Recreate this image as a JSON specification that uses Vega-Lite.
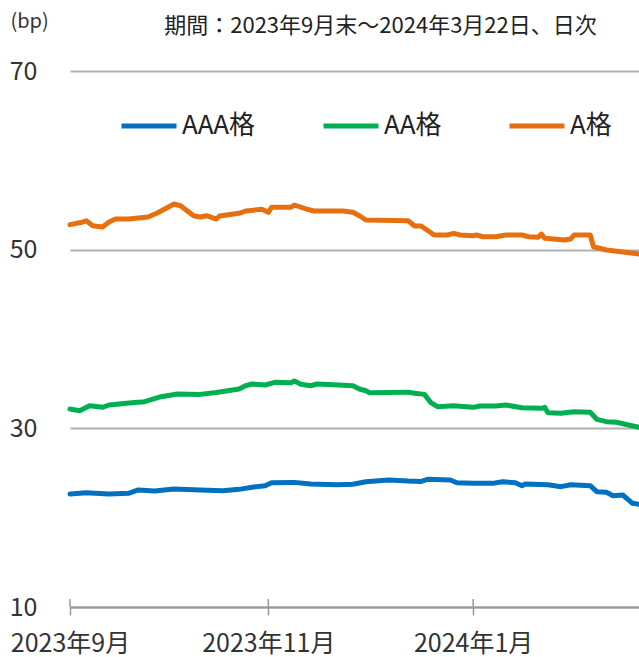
{
  "$schema": "https://vega.github.io/schema/vega-lite/v6.json",
  "width": 569,
  "height": 536,
  "autosize": {"type": "none"},
  "padding": {"left": 70, "top": 71, "right": 0, "bottom": 50},
  "background": "white",
  "config": {"view": {"stroke": null}, "font": "Noto Sans CJK JP"},
  "resolve": {"axis": {"x": "independent", "y": "independent"}},
  "layer": [
    {
      "data": {
        "values": [
          {"d": "2023-09-29", "s": "AAA格", "v": 22.65},
          {"d": "2023-10-04", "s": "AAA格", "v": 22.8},
          {"d": "2023-10-11", "s": "AAA格", "v": 22.65},
          {"d": "2023-10-17", "s": "AAA格", "v": 22.73},
          {"d": "2023-10-20", "s": "AAA格", "v": 23.1},
          {"d": "2023-10-25", "s": "AAA格", "v": 22.98},
          {"d": "2023-10-31", "s": "AAA格", "v": 23.21},
          {"d": "2023-11-08", "s": "AAA格", "v": 23.1},
          {"d": "2023-11-15", "s": "AAA格", "v": 23.02},
          {"d": "2023-11-20", "s": "AAA格", "v": 23.17},
          {"d": "2023-11-24", "s": "AAA格", "v": 23.4},
          {"d": "2023-11-28", "s": "AAA格", "v": 23.58},
          {"d": "2023-11-30", "s": "AAA格", "v": 23.91},
          {"d": "2023-12-07", "s": "AAA格", "v": 23.95},
          {"d": "2023-12-12", "s": "AAA格", "v": 23.77},
          {"d": "2023-12-20", "s": "AAA格", "v": 23.69},
          {"d": "2023-12-25", "s": "AAA格", "v": 23.75},
          {"d": "2023-12-29", "s": "AAA格", "v": 24.02},
          {"d": "2024-01-05", "s": "AAA格", "v": 24.21},
          {"d": "2024-01-11", "s": "AAA格", "v": 24.1},
          {"d": "2024-01-15", "s": "AAA格", "v": 24.06},
          {"d": "2024-01-17", "s": "AAA格", "v": 24.29},
          {"d": "2024-01-24", "s": "AAA格", "v": 24.21},
          {"d": "2024-01-26", "s": "AAA格", "v": 23.91},
          {"d": "2024-01-31", "s": "AAA格", "v": 23.84},
          {"d": "2024-02-06", "s": "AAA格", "v": 23.84},
          {"d": "2024-02-09", "s": "AAA格", "v": 24.02},
          {"d": "2024-02-13", "s": "AAA格", "v": 23.91},
          {"d": "2024-02-15", "s": "AAA格", "v": 23.58},
          {"d": "2024-02-16", "s": "AAA格", "v": 23.77},
          {"d": "2024-02-23", "s": "AAA格", "v": 23.69},
          {"d": "2024-02-27", "s": "AAA格", "v": 23.47},
          {"d": "2024-03-01", "s": "AAA格", "v": 23.69},
          {"d": "2024-03-07", "s": "AAA格", "v": 23.58},
          {"d": "2024-03-09", "s": "AAA格", "v": 22.91},
          {"d": "2024-03-12", "s": "AAA格", "v": 22.84},
          {"d": "2024-03-14", "s": "AAA格", "v": 22.46},
          {"d": "2024-03-17", "s": "AAA格", "v": 22.54},
          {"d": "2024-03-20", "s": "AAA格", "v": 21.61},
          {"d": "2024-03-22", "s": "AAA格", "v": 21.5},

          {"d": "2023-09-29", "s": "AA格", "v": 32.16},
          {"d": "2023-10-02", "s": "AA格", "v": 31.97},
          {"d": "2023-10-05", "s": "AA格", "v": 32.53},
          {"d": "2023-10-09", "s": "AA格", "v": 32.35},
          {"d": "2023-10-11", "s": "AA格", "v": 32.61},
          {"d": "2023-10-18", "s": "AA格", "v": 32.87},
          {"d": "2023-10-22", "s": "AA格", "v": 32.98},
          {"d": "2023-10-27", "s": "AA格", "v": 33.54},
          {"d": "2023-11-01", "s": "AA格", "v": 33.84},
          {"d": "2023-11-08", "s": "AA格", "v": 33.8},
          {"d": "2023-11-13", "s": "AA格", "v": 34.02},
          {"d": "2023-11-20", "s": "AA格", "v": 34.4},
          {"d": "2023-11-22", "s": "AA格", "v": 34.77},
          {"d": "2023-11-24", "s": "AA格", "v": 34.96},
          {"d": "2023-11-28", "s": "AA格", "v": 34.85},
          {"d": "2023-12-01", "s": "AA格", "v": 35.15},
          {"d": "2023-12-06", "s": "AA格", "v": 35.1},
          {"d": "2023-12-07", "s": "AA格", "v": 35.3},
          {"d": "2023-12-09", "s": "AA格", "v": 34.93},
          {"d": "2023-12-12", "s": "AA格", "v": 34.77},
          {"d": "2023-12-14", "s": "AA格", "v": 34.96},
          {"d": "2023-12-19", "s": "AA格", "v": 34.88},
          {"d": "2023-12-25", "s": "AA格", "v": 34.77},
          {"d": "2023-12-27", "s": "AA格", "v": 34.4},
          {"d": "2023-12-29", "s": "AA格", "v": 34.21},
          {"d": "2023-12-30", "s": "AA格", "v": 33.99},
          {"d": "2024-01-11", "s": "AA格", "v": 34.05},
          {"d": "2024-01-13", "s": "AA格", "v": 33.92},
          {"d": "2024-01-16", "s": "AA格", "v": 33.8},
          {"d": "2024-01-18", "s": "AA格", "v": 32.87},
          {"d": "2024-01-20", "s": "AA格", "v": 32.42},
          {"d": "2024-01-25", "s": "AA格", "v": 32.53},
          {"d": "2024-01-31", "s": "AA格", "v": 32.35},
          {"d": "2024-02-02", "s": "AA格", "v": 32.5},
          {"d": "2024-02-07", "s": "AA格", "v": 32.5},
          {"d": "2024-02-10", "s": "AA格", "v": 32.61},
          {"d": "2024-02-15", "s": "AA格", "v": 32.31},
          {"d": "2024-02-21", "s": "AA格", "v": 32.24},
          {"d": "2024-02-22", "s": "AA格", "v": 32.35},
          {"d": "2024-02-23", "s": "AA格", "v": 31.75},
          {"d": "2024-02-27", "s": "AA格", "v": 31.68},
          {"d": "2024-03-02", "s": "AA格", "v": 31.86},
          {"d": "2024-03-07", "s": "AA格", "v": 31.8},
          {"d": "2024-03-09", "s": "AA格", "v": 31.01},
          {"d": "2024-03-12", "s": "AA格", "v": 30.75},
          {"d": "2024-03-15", "s": "AA格", "v": 30.68},
          {"d": "2024-03-22", "s": "AA格", "v": 30.11},

          {"d": "2023-09-29", "s": "A格", "v": 52.8},
          {"d": "2023-10-03", "s": "A格", "v": 53.1},
          {"d": "2023-10-04", "s": "A格", "v": 53.24},
          {"d": "2023-10-06", "s": "A格", "v": 52.68},
          {"d": "2023-10-09", "s": "A格", "v": 52.54},
          {"d": "2023-10-11", "s": "A格", "v": 53.1},
          {"d": "2023-10-13", "s": "A格", "v": 53.43},
          {"d": "2023-10-17", "s": "A格", "v": 53.43},
          {"d": "2023-10-23", "s": "A格", "v": 53.66},
          {"d": "2023-10-26", "s": "A格", "v": 54.14},
          {"d": "2023-10-31", "s": "A格", "v": 55.11},
          {"d": "2023-11-02", "s": "A格", "v": 54.92},
          {"d": "2023-11-06", "s": "A格", "v": 53.8},
          {"d": "2023-11-08", "s": "A格", "v": 53.66},
          {"d": "2023-11-10", "s": "A格", "v": 53.8},
          {"d": "2023-11-13", "s": "A格", "v": 53.43},
          {"d": "2023-11-14", "s": "A格", "v": 53.77},
          {"d": "2023-11-20", "s": "A格", "v": 54.07},
          {"d": "2023-11-22", "s": "A格", "v": 54.33},
          {"d": "2023-11-27", "s": "A格", "v": 54.52},
          {"d": "2023-11-29", "s": "A格", "v": 54.18},
          {"d": "2023-11-30", "s": "A格", "v": 54.74},
          {"d": "2023-12-06", "s": "A格", "v": 54.74},
          {"d": "2023-12-07", "s": "A格", "v": 55.0},
          {"d": "2023-12-11", "s": "A格", "v": 54.52},
          {"d": "2023-12-13", "s": "A格", "v": 54.33},
          {"d": "2023-12-22", "s": "A格", "v": 54.33},
          {"d": "2023-12-25", "s": "A格", "v": 54.18},
          {"d": "2023-12-27", "s": "A格", "v": 53.8},
          {"d": "2023-12-29", "s": "A格", "v": 53.32},
          {"d": "2024-01-11", "s": "A格", "v": 53.24},
          {"d": "2024-01-13", "s": "A格", "v": 52.65},
          {"d": "2024-01-15", "s": "A格", "v": 52.65},
          {"d": "2024-01-19", "s": "A格", "v": 51.64},
          {"d": "2024-01-23", "s": "A格", "v": 51.64},
          {"d": "2024-01-25", "s": "A格", "v": 51.83},
          {"d": "2024-01-27", "s": "A格", "v": 51.64},
          {"d": "2024-01-31", "s": "A格", "v": 51.56},
          {"d": "2024-02-01", "s": "A格", "v": 51.64},
          {"d": "2024-02-03", "s": "A格", "v": 51.45},
          {"d": "2024-02-07", "s": "A格", "v": 51.45},
          {"d": "2024-02-10", "s": "A格", "v": 51.64},
          {"d": "2024-02-15", "s": "A格", "v": 51.64},
          {"d": "2024-02-17", "s": "A格", "v": 51.45},
          {"d": "2024-02-20", "s": "A格", "v": 51.38},
          {"d": "2024-02-21", "s": "A格", "v": 51.75},
          {"d": "2024-02-22", "s": "A格", "v": 51.27},
          {"d": "2024-02-28", "s": "A格", "v": 51.08},
          {"d": "2024-03-01", "s": "A格", "v": 51.19},
          {"d": "2024-03-02", "s": "A格", "v": 51.64},
          {"d": "2024-03-07", "s": "A格", "v": 51.64},
          {"d": "2024-03-08", "s": "A格", "v": 50.33},
          {"d": "2024-03-12", "s": "A格", "v": 49.96},
          {"d": "2024-03-14", "s": "A格", "v": 49.88},
          {"d": "2024-03-22", "s": "A格", "v": 49.51}
        ]
      },
      "mark": {"type": "line", "strokeWidth": 5, "strokeJoin": "round", "strokeCap": "round"},
      "encoding": {
        "x": {
          "field": "d",
          "type": "temporal",
          "scale": {
            "type": "utc",
            "domain": [
              {"year": 2023, "month": 9, "date": 29, "utc": true},
              {"year": 2024, "month": 3, "date": 22, "utc": true}
            ]
          },
          "axis": {
            "values": [
              {"year": 2023, "month": 9, "date": 29, "utc": true},
              {"year": 2023, "month": 11, "date": 29, "utc": true},
              {"year": 2024, "month": 1, "date": 31, "utc": true}
            ],
            "format": "%Y年%-m月",
            "labelFontSize": 25,
            "labelColor": "#333333",
            "labelPadding": 16,
            "labelFlush": false,
            "tickSize": 8,
            "tickWidth": 1.5,
            "tickColor": "#999999",
            "domainColor": "#999999",
            "domainWidth": 2,
            "grid": false,
            "title": "期間：2023年9月末～2024年3月22日、日次",
            "titleX": 310,
            "titleY": -582,
            "titleAlign": "center",
            "titleBaseline": "middle",
            "titleFontSize": 22,
            "titleFontWeight": "normal",
            "titleColor": "#222222"
          }
        },
        "y": {
          "field": "v",
          "type": "quantitative",
          "scale": {"domain": [10, 70], "nice": false, "zero": false},
          "axis": {
            "values": [10, 30, 50, 70],
            "grid": true,
            "gridColor": "#b0b0b0",
            "gridWidth": 2,
            "domain": false,
            "ticks": false,
            "labelFontSize": 25,
            "labelColor": "#333333",
            "labelPadding": 33,
            "title": "(bp)",
            "titleAngle": 0,
            "titleX": -60,
            "titleY": -50,
            "titleAlign": "left",
            "titleBaseline": "middle",
            "titleFontSize": 20,
            "titleFontWeight": "normal",
            "titleColor": "#333333"
          }
        },
        "color": {
          "field": "s",
          "type": "nominal",
          "scale": {"domain": ["AAA格", "AA格", "A格"], "range": ["#0070C0", "#00B050", "#E67010"]},
          "legend": {
            "orient": "none",
            "legendX": 49,
            "legendY": 25,
            "direction": "horizontal",
            "title": null,
            "symbolType": "stroke",
            "symbolSize": 3025,
            "symbolStrokeWidth": 5,
            "labelFontSize": 26,
            "labelColor": "#222222",
            "labelOffset": 3,
            "columnPadding": 57,
            "padding": 0
          }
        }
      }
    },
    {
      "data": {
        "values": [
          {"d": "2023-09-29"},
          {"d": "2023-11-29"},
          {"d": "2024-01-31"}
        ]
      },
      "mark": {"type": "rule", "color": "#999999", "strokeWidth": 1.5},
      "encoding": {
        "x": {"field": "d", "type": "temporal", "axis": null},
        "y": {"datum": 10, "axis": null},
        "y2": {"datum": 10.9}
      }
    }
  ]
}
